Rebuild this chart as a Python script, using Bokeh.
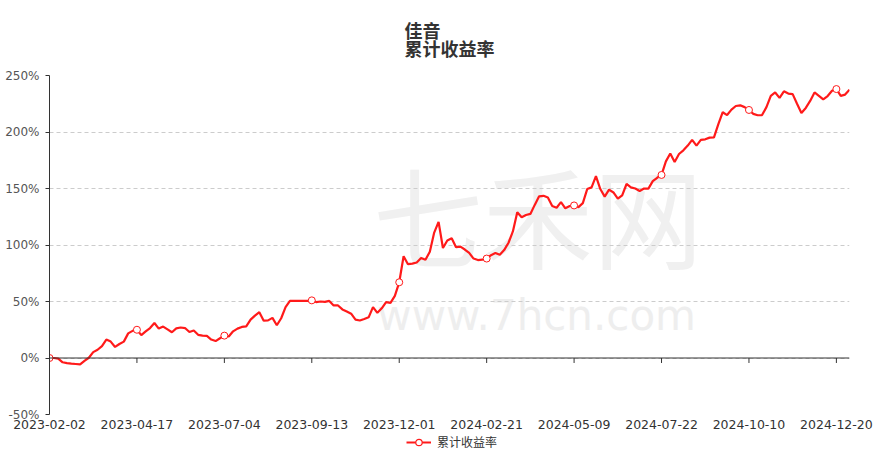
from bokeh.plotting import figure
from bokeh.layouts import column
from bokeh.models import (Range1d, FixedTicker, Legend, LegendItem,
                          Title, Label, Span)
from bokeh.embed import file_html
from bokeh.resources import INLINE

# ---------------- data ----------------
title_text = "佳音"
subtitle_text = "累计收益率"
series_name = "累计收益率"

tick_labels = ["2023-02-02", "2023-04-17", "2023-07-04", "2023-09-13", "2023-12-01",
               "2024-02-21", "2024-05-09", "2024-07-22", "2024-10-10", "2024-12-20"]
label_every = 20  # points between labelled dates

returns_pct = [
    0, 0, -0.5, -3.8, -4.6, -5.0, -5.3, -5.6, -2.5, 0.2,
    5.2, 7.3, 10.5, 16.3, 14.5, 9.8, 12.4, 14.5, 21.8, 24,
    25, 20.2, 23.5, 26.5, 31, 26, 27.8, 25.3, 22.8, 26.2,
    27, 26.5, 23, 24.3, 20.5, 19.8, 19.5, 16.3, 15, 17.5,
    19.8, 19, 23.6, 26, 27.5, 28, 34, 37.5, 40.5, 33,
    33.3, 35.5, 29, 35.2, 45, 50.5, 50.5, 50.5, 50.5, 50.5,
    51, 49.5, 50, 49.7, 50.5, 46.5, 46.5, 43, 41.2, 39.2,
    34, 33.2, 34.5, 36, 45, 40, 44, 49.5, 48.8, 55,
    67, 90, 83, 83.5, 84.5, 88.5, 87, 94, 111, 120.5,
    97.3, 104, 106, 98, 98.5, 96, 93, 88, 86.7, 87,
    88, 91, 93, 91.3, 95.5, 102, 112, 129, 124.5, 126.5,
    127.5, 135.5, 143.1, 143.5, 142, 134.5, 133, 138, 132.5, 134.5,
    135, 133.5, 137, 149.5, 151, 161, 149.5, 142.8, 149, 146.5,
    141, 144, 154, 151, 150, 147.8, 150, 149.9, 156.5, 159.5,
    162, 174, 181, 173.5, 180.5, 183.8, 188, 193, 188, 193,
    193.5, 195, 195.3, 207, 217.5, 215, 219.8, 223, 223.6, 222,
    219.5, 216, 214.8, 215, 222, 232, 235, 230.2, 236, 234,
    233.5, 225, 216.8, 221.3, 227.5, 235, 232, 228.8, 231.8, 236.5,
    238, 232, 233.1, 237.5,
]

y_ticks = [-50, 0, 50, 100, 150, 200, 250]

# ---------------- derived ----------------
x_idx = list(range(len(returns_pct)))
tick_pos = [i * label_every for i in range(len(tick_labels))]
marker_x = [t for t in tick_pos if t < len(returns_pct)]
marker_y = [returns_pct[t] for t in marker_x]

RED = "#ff1a1a"
AXIS = "#333333"
TICK_LEN = 4.4  # zero-line tick length in y units (~5px)
W = 873

p = figure(width=W, height=434, output_backend="svg", toolbar_location=None,
           x_range=Range1d(0, len(returns_pct) - 1), y_range=Range1d(-50, 250),
           min_border_left=49, min_border_right=24, min_border_top=74,
           min_border_bottom=20, title=None)
p.outline_line_color = None
p.background_fill_color = "white"
p.border_fill_color = "white"

# watermark
p.add_layout(Label(x=74, y=128, text="七禾网", text_font="Noto Sans CJK SC",
                   text_font_size="110px", text_color="#f0f0f0",
                   text_baseline="middle", level="image"))
p.add_layout(Label(x=75, y=38, text="www.7hcn.com", text_font="DejaVu Sans",
                   text_font_size="42px", text_color="#eeeeee",
                   text_baseline="alphabetic", level="image"))

# titles (two lines)
p.add_layout(Title(text=title_text + "\n" + subtitle_text, align="center",
                   text_font_size="18px", text_font_style="bold",
                   text_color=AXIS, text_font="Noto Sans CJK SC",
                   text_line_height=0.72, standoff=28), "above")

# grid
p.xgrid.visible = False
p.ygrid.ticker = FixedTicker(ticks=y_ticks)
p.ygrid.grid_line_color = "#cccccc"
p.ygrid.grid_line_dash = "4 3"
p.ygrid.grid_line_width = 1

# y axis
p.yaxis.ticker = FixedTicker(ticks=y_ticks)
p.yaxis.major_label_overrides = {t: f"{t}%" for t in y_ticks}
p.yaxis.axis_line_color = AXIS
p.yaxis.major_tick_line_color = AXIS
p.yaxis.major_tick_out = 4
p.yaxis.major_tick_in = 0
p.yaxis.minor_tick_line_color = None
p.yaxis.major_label_standoff = 6
p.yaxis.major_label_text_font = "DejaVu Sans"
p.yaxis.major_label_text_font_size = "12px"
p.yaxis.major_label_text_color = "#555555"

# bottom axis: labels only
p.xaxis.ticker = FixedTicker(ticks=tick_pos)
p.xaxis.major_label_overrides = {t: lab for t, lab in zip(tick_pos, tick_labels)}
p.xaxis.axis_line_color = None
p.xaxis.major_tick_line_color = None
p.xaxis.major_tick_out = 0
p.xaxis.major_tick_in = 0
p.xaxis.minor_tick_line_color = None
p.xaxis.minor_tick_out = 0
p.xaxis.major_label_standoff = 5
p.xaxis.major_label_text_font = "DejaVu Sans"
p.xaxis.major_label_text_font_size = "12.5px"
p.xaxis.major_label_text_color = "#333333"

# zero line with category ticks
p.add_layout(Span(location=0, dimension="width", line_color=AXIS, line_width=1))
p.segment(x0=tick_pos, y0=[0] * len(tick_pos), x1=tick_pos,
          y1=[-TICK_LEN] * len(tick_pos), line_color=AXIS, line_width=1)

# series
line_r = p.line(x_idx, returns_pct, line_color=RED, line_width=2.2)
mark_r = p.scatter(marker_x, marker_y, marker="circle", size=7,
                   line_color=RED, fill_color="white", line_width=1)

# legend strip below the chart (glyph data lies outside its visible range)
lg = figure(width=W, height=16, output_backend="svg", toolbar_location=None,
            x_axis_location=None, y_axis_location=None, min_border=0,
            x_range=Range1d(0, 1), y_range=Range1d(0, 1))
lg.outline_line_color = None
lg.xgrid.visible = False
lg.ygrid.visible = False
lg_line = lg.line(x=[-3, -2], y=[-3, -3], line_color=RED, line_width=2)
lg_mark = lg.scatter(x=[-3], y=[-3], marker="circle", size=7,
                     line_color=RED, fill_color="white", line_width=1.2)
legend = Legend(items=[LegendItem(label=series_name, renderers=[lg_line, lg_mark])],
                orientation="horizontal", location=(357, 0),
                label_text_font="Noto Sans CJK SC", label_text_font_size="12px",
                label_text_color="#333333", glyph_width=25, glyph_height=16,
                label_height=16, border_line_color=None, background_fill_alpha=0,
                padding=0, margin=0, label_standoff=6)
lg.add_layout(legend)

layout = column(p, lg, spacing=0)
open("out.html", "w").write(file_html(layout, INLINE))
